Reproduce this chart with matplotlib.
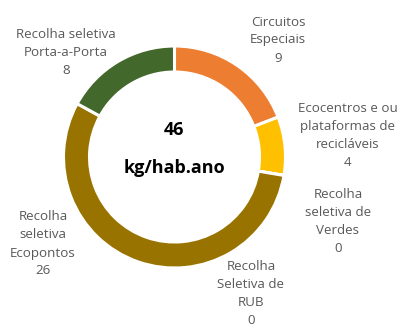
import matplotlib
matplotlib.use("Agg")
import matplotlib.pyplot as plt

# kg per inhabitant per year, by collection stream
categories = ["Circuitos\nEspeciais",
              "Ecocentros e ou\nplataformas de\nrecicláveis",
              "Recolha\nseletiva de\nVerdes",
              "Recolha\nSeletiva de\nRUB",
              "Recolha\nseletiva\nEcopontos",
              "Recolha seletiva\nPorta-a-Porta"]
values = [9, 4, 0, 0, 26, 8]
total_label = "46"
unit_label = "kg/hab.ano"

colors = ["#ED7D31", "#FFC000", "#70AD47", "#5B9BD5", "#997300", "#43682B"]
# label centres in pixels (x, y from top)
label_pos = [(278, 40), (348, 136), (338, 222), (251, 293), (43, 244), (66, 53)]

W, H = 402, 324
fig = plt.figure(figsize=(W / 100, H / 100), dpi=100)
ax = fig.add_axes([0, 0, 1, 1])
ax.set_xlim(0, W)
ax.set_ylim(0, H)
ax.set_aspect("equal")
ax.axis("off")

cx, cy, r = 174.5, H - 157, 111
ax.pie(values, colors=colors, startangle=90, counterclock=False,
       center=(cx, cy), radius=r,
       wedgeprops=dict(width=26, edgecolor="white", linewidth=2.2))
ax.set_xlim(0, W)
ax.set_ylim(0, H)

font = ["Open Sans", "DejaVu Sans"]
for name, v, (x, y) in zip(categories, values, label_pos):
    ax.text(x, H - y, f"{name}\n{v}", ha="center", va="center",
            fontsize=9.6, color="#595959", family=font, linespacing=1.5)

ax.text(cx, H - 130, total_label, ha="center", va="center",
        fontsize=13, fontweight="bold", color="black", family=font)
ax.text(cx, H - 168, unit_label, ha="center", va="center",
        fontsize=13, fontweight="bold", color="black", family=font)

fig.savefig("out.png", dpi=100)
